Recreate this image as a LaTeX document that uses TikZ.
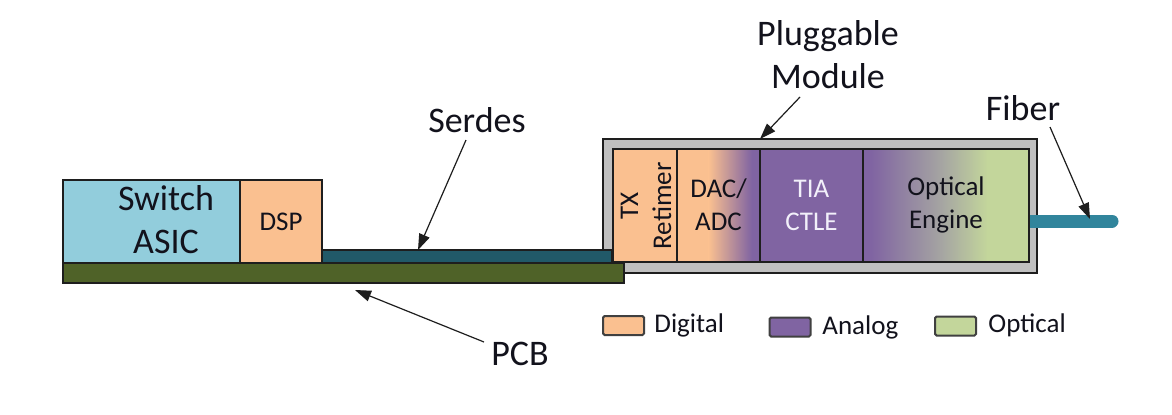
\documentclass[tikz,border=0pt]{standalone}
\usepackage{fontspec}
\setmainfont{Carlito}
\usetikzlibrary{arrows.meta,calc}
\definecolor{asicc}{HTML}{92CDDC}
\definecolor{digc}{HTML}{FAC090}
\definecolor{anac}{HTML}{8064A2}
\definecolor{optc}{HTML}{C3D69B}
\definecolor{midc}{HTML}{A6A6A2}
\definecolor{serdc}{HTML}{215968}
\definecolor{pcbc}{HTML}{4F6228}
\definecolor{modc}{HTML}{C0C0C0}
\definecolor{fibc}{HTML}{31859C}
\definecolor{edgec}{HTML}{1E1E1E}
\definecolor{txtc}{HTML}{12121C}
\definecolor{lightc}{HTML}{F2F0FA}
\tikzset{
  blk/.style 2 args={draw=edgec, line width=0.65pt, inner sep=0pt,
    minimum width=#1, minimum height=#2},
  biglbl/.style={font=\fontsize{18}{21.5}\selectfont, align=center, text=txtc, inner sep=0pt},
  smllbl/.style={font=\fontsize{13.5}{16.5}\selectfont, align=center, text=txtc, inner sep=0pt},
  leglbl/.style={font=\fontsize{13.5}{16.5}\selectfont, text=txtc, inner sep=0pt, anchor=base west},
  legbox/.style={draw=edgec!85, line width=1pt, rounded corners=0.8pt, inner sep=0pt,
    minimum width=20.5pt, minimum height=9.5pt},
  conn/.style={draw=edgec, line width=0.6pt, -{Triangle[length=8pt,width=5.5pt]}},
  dacfill/.style={path picture={
    \coordinate (sw) at (path picture bounding box.south west);
    \coordinate (ne) at (path picture bounding box.north east);
    \fill[digc] (sw) rectangle (ne);
    \shade[left color=digc,right color=anac] ($(sw)!0.38!(sw-|ne)$) rectangle ($(ne-|sw)!0.9!(ne)$);
    \fill[anac] ($(ne-|sw)!0.899!(ne)$) rectangle (sw-|ne);
  }},
  optfill/.style={path picture={
    \coordinate (sw) at (path picture bounding box.south west);
    \coordinate (ne) at (path picture bounding box.north east);
    \fill[anac] (sw) rectangle ($(ne-|sw)!0.05!(ne)$);
    \shade[left color=anac,right color=midc] ($(sw)!0.049!(sw-|ne)$) rectangle ($(ne-|sw)!0.48!(ne)$);
    \shade[left color=midc,right color=optc] ($(sw)!0.479!(sw-|ne)$) rectangle ($(ne-|sw)!0.75!(ne)$);
    \fill[optc] ($(sw)!0.749!(sw-|ne)$) rectangle (ne);
  }}
}
\begin{document}
\begin{tikzpicture}[x=0.5pt,y=-0.5pt]
\useasboundingbox[fill=white] (0,0) rectangle (1172,414);

% pluggable module housing
\node[blk={217pt}{67pt}, fill=modc, line width=1pt] (module) at (820,206) {};
% fiber
\coordinate (fiberend) at (1112,221);
\draw[fibc, line width=6.5pt, line cap=round] (1020,221) -- (fiberend);

% module inner blocks
\node[blk={32pt}{56.5pt}, fill=digc] (tx) at (645,205.5) {};
\node[smllbl, rotate=90] (txlbl) at (646,206) {TX\\Retimer};
\node[blk={41.5pt}{56.5pt}, dacfill] (dac) at (718.5,205.5) {};
\node[smllbl] (daclbl) at (718.5,205) {DAC/\\ADC};
\node[blk={51.5pt}{56.5pt}, fill=anac] (tia) at (811.5,205.5) {};
\node[smllbl, text=lightc] (tialbl) at (811.5,205) {TIA\\CTLE};
\node[blk={83pt}{56.5pt}, optfill] (opt) at (946,205.5) {};
\node[smllbl] (optlbl) at (946,205) {Optical\\Engine};

% board side
\node[blk={88.5pt}{41.5pt}, fill=asicc] (asic) at (151.5,221.5) {};
\node[biglbl] (asiclbl) at (166,220) {Switch\\ASIC};
\node[blk={41pt}{41.5pt}, fill=digc] (dsp) at (281,221.5) {};
\node[smllbl] (dsplbl) at (281,222) {DSP};
\node[blk={145pt}{6.5pt}, fill=serdc] (serdes) at (467,256.5) {};
\node[blk={280.5pt}{10pt}, fill=pcbc] (pcb) at (343.5,273) {};

% labels
\node[biglbl] (pmlbl) at (828,55) {Pluggable\\Module};
\node[biglbl] (serdeslbl) at (477,120) {Serdes};
\node[biglbl] (fiberlbl) at (1023,108) {Fiber};
\node[biglbl] (pcblbl) at (520,354) {PCB};

% arrows
\coordinate (serdesfrom) at (466,140);
\coordinate (serdesto) at (418,250);
\coordinate (pmfrom) at (800,97);
\coordinate (pmto) at (760,139);
\coordinate (fiberfrom) at (1050,127);
\coordinate (fiberto) at (1090,219);
\coordinate (pcbfrom) at (484,342);
\coordinate (pcbto) at (355,290);
\draw[conn] (serdesfrom) -- (serdesto);
\draw[conn] (pmfrom) -- (pmto);
\draw[conn] (fiberfrom) -- (fiberto);
\draw[conn] (pcbfrom) -- (pcbto);

% legend
\node[legbox, fill=digc] (legdig) at (623.5,325.5) {};
\node[leglbl] (legdiglbl) at (654,332) {Digital};
\node[legbox, fill=anac] (legana) at (790,327) {};
\node[leglbl] (leganalbl) at (822,334) {Analog};
\node[legbox, fill=optc] (legopt) at (955.5,326) {};
\node[leglbl] (legoptlbl) at (988,332) {Optical};
\end{tikzpicture}
\end{document}
